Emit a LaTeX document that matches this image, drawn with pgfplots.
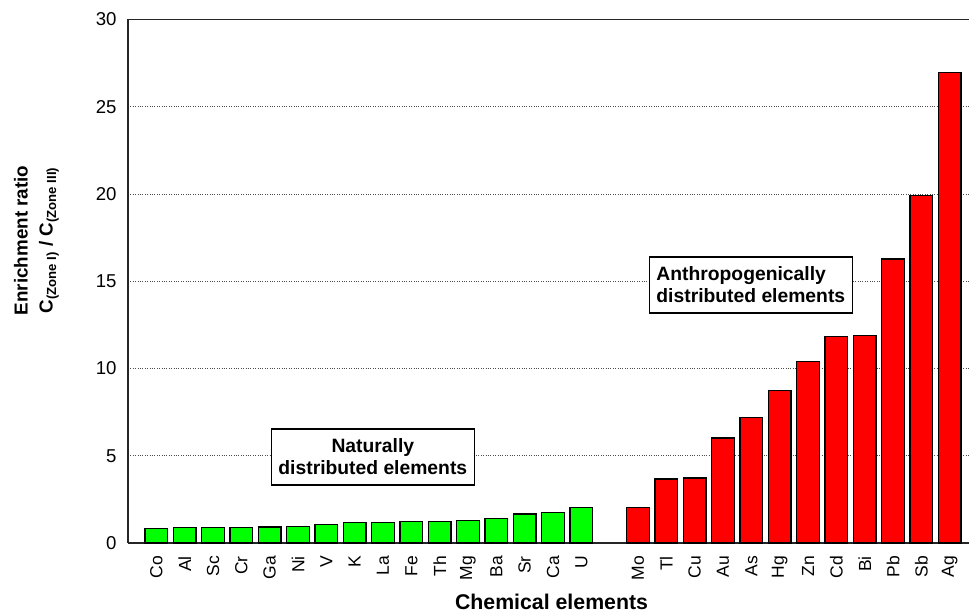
\documentclass[border=0pt]{standalone}
\usepackage{fontspec}
\setmainfont{Liberation Sans}
\usepackage{pgfplots}
\pgfplotsset{compat=1.18}
\definecolor{bargreen}{RGB}{0,255,0}
\definecolor{barred}{RGB}{255,0,0}
\begin{document}
\begin{tikzpicture}
\begin{axis}[name=ax, at={(0pt,0pt)}, anchor=south west,
  scale only axis, width=841pt, height=523.5pt,
  xmin=-1, xmax=28.68, ymin=0, ymax=30,
  axis x line*=bottom, axis y line*=left,
  axis line style={line width=1.6pt, color=black!85, -},
  ytick={0,5,10,15,20,25,30},
  xtick={0,1,2,3,4,5,6,7,8,9,10,11,12,13,14,15,17,18,19,20,21,22,23,24,25,26,27,28},
  xticklabels={Co,Al,Sc,Cr,Ga,Ni,V,K,La,Fe,Th,Mg,Ba,Sr,Ca,U,Mo,Tl,Cu,Au,As,Hg,Zn,Cd,Bi,Pb,Sb,Ag},
  major tick length=0pt,
  /pgf/number format/assume math mode=true,
  ymajorgrids, grid style={dotted, black!70, line width=0.8pt},
  yticklabel style={font=\fontsize{18.6}{22}\selectfont, inner sep=0pt},
  yticklabel shift=11.3pt,
  xticklabel style={font=\fontsize{17.5}{21}\selectfont, rotate=90, anchor=east, inner sep=0pt},
  xticklabel shift=13pt,
  ybar, bar width=0.8, bar shift=0pt,
  xlabel={Chemical elements},
  xlabel style={font=\bfseries\fontsize{21.3}{25}\selectfont, at={(axis description cs:0.5036,0)}, anchor=base, inner sep=0pt, yshift=-66pt},
  ylabel={Enrichment ratio\\C\textsubscript{(Zone I)} / C\textsubscript{(Zone III)}},
  ylabel style={font=\bfseries\fontsize{18.8}{25}\selectfont, align=center, at={(axis description cs:-0.1088,0.578)}, anchor=center, inner sep=0pt},
  clip=false,
]
\addplot[fill=bargreen, draw=black, line width=1.2pt] coordinates {
(0,0.84) (1,0.88) (2,0.88) (3,0.90) (4,0.92) (5,0.94) (6,1.05) (7,1.17)
(8,1.17) (9,1.24) (10,1.24) (11,1.28) (12,1.40) (13,1.66) (14,1.76) (15,2.03)};
\addplot[fill=barred, draw=black, line width=1.2pt] coordinates {
(17,2.05) (18,3.67) (19,3.73) (20,6.02) (21,7.19) (22,8.74) (23,10.38)
(24,11.84) (25,11.88) (26,16.28) (27,19.93) (28,26.97)};
\draw[line width=1.6pt, color=black!85] (rel axis cs:0,1) -- (rel axis cs:1,1);
\node[draw, fill=white, line width=1.2pt, minimum width=203pt, minimum height=56pt, align=center, inner sep=0pt,
  font=\bfseries\fontsize{19.3}{22}\selectfont] at (axis cs:7.64,4.93) {Naturally\\distributed elements};
\node[draw, fill=white, line width=1.2pt, minimum width=203pt, minimum height=56pt, align=left, inner sep=0pt,
  font=\bfseries\fontsize{19.3}{22}\selectfont] at (axis cs:20.98,14.78) {Anthropogenically\\distributed elements};
\end{axis}
\pgfresetboundingbox
\path (-128pt,-70pt) rectangle (841pt,543pt);
\end{tikzpicture}
\end{document}
